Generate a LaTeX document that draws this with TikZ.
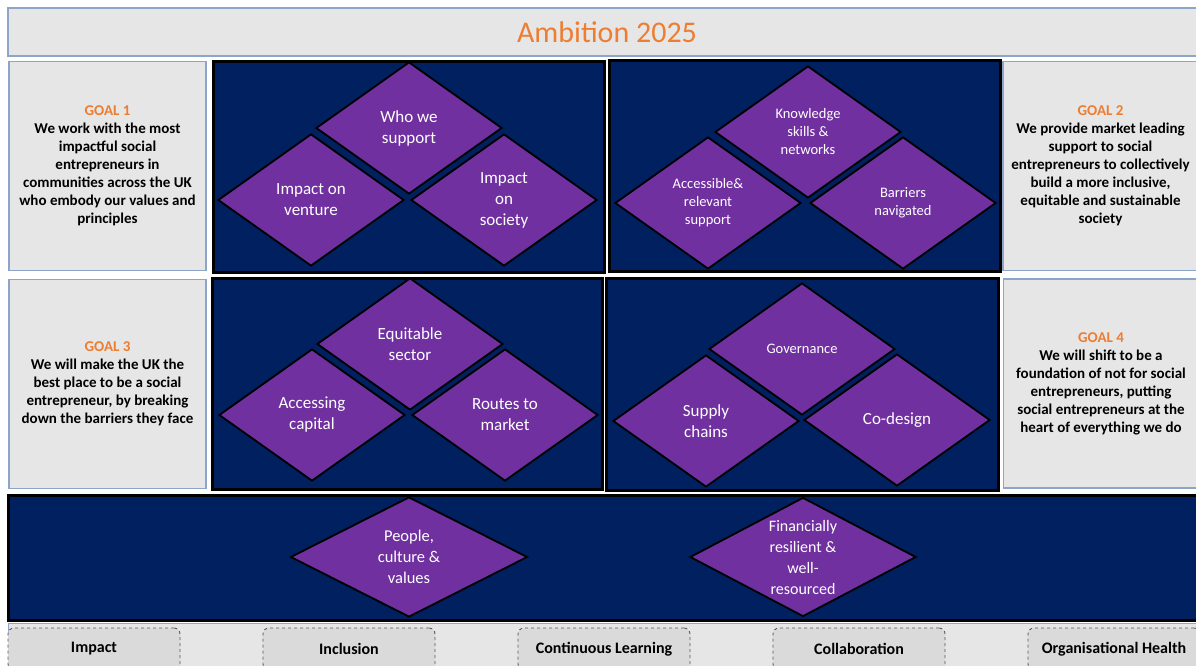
\documentclass[tikz,border=0pt]{standalone}
\usepackage{fontspec}
\setmainfont{Carlito}
\usepackage{tikz}
\usetikzlibrary{shapes.geometric}
\definecolor{navy}{RGB}{0,32,96}
\definecolor{petalpurple}{RGB}{112,48,160}
\definecolor{panelgray}{RGB}{231,230,230}
\definecolor{framegray}{RGB}{140,165,200}
\definecolor{goalorange}{RGB}{237,125,49}
\definecolor{pillargray}{RGB}{218,218,218}
\newcommand{\goalhead}[1]{\textcolor{goalorange}{GOAL #1}}

\begin{document}
\begin{tikzpicture}[x=1pt, y=-1pt]
      \tikzstyle{banner} = [rectangle, draw=framegray, line width=1.2pt, fill=panelgray]
      \tikzstyle{goalbox} = [rectangle, minimum width=197pt, minimum height=209pt, draw=framegray, line width=1.2pt, fill=panelgray, align=center, font=\fontsize{15}{18}\selectfont\bfseries]
      \tikzstyle{navybox} = [rectangle, draw=black, line width=3pt, fill=navy]
      \tikzstyle{petal} = [diamond, minimum width=186pt, minimum height=132pt, inner sep=0pt, draw=black, line width=1.8pt, fill=petalpurple, text=white, align=center, font=\fontsize{17}{21}\selectfont]
      \tikzstyle{small} = [font=\fontsize{14.5}{18}\selectfont]
      \tikzstyle{pillar} = [rectangle, rounded corners=6pt, dashed, draw=black!65, line width=0.9pt, fill=pillargray, minimum width=172pt, minimum height=42pt, font=\fontsize{16}{19}\selectfont\bfseries]

      \useasboundingbox (0,0) rectangle (1196,666);

      \node (title) [banner, minimum width=1198pt, minimum height=48pt, text=goalorange, font=\fontsize{30}{36}\selectfont] at (607,32) {Ambition 2025};

      \node (goal1) [goalbox] at (107.5,166) {\goalhead{1}\\We work with the most\\impactful social\\entrepreneurs in\\communities across the UK\\who embody our values and\\principles};
      \node (goal2) [goalbox, minimum width=195pt] at (1100.5,166) {\goalhead{2}\\We provide market leading\\support to social\\entrepreneurs to collectively\\build a more inclusive,\\equitable and sustainable\\society};
      \node (goal3) [goalbox] at (107.5,384) {\goalhead{3}\\We will make the UK the\\best place to be a social\\entrepreneur, by breaking\\down the barriers they face};
      \node (goal4) [goalbox, minimum width=195pt] at (1101,383.5) {\goalhead{4}\\We will shift to be a\\foundation of not for social\\entrepreneurs, putting\\social entrepreneurs at the\\heart of everything we do};

      \node (box1) [navybox, minimum width=391pt, minimum height=210pt] at (408.5,167) {};
      \node (box2) [navybox, minimum width=391pt, minimum height=210pt] at (804.5,166) {};
      \node (box3) [navybox, minimum width=390pt, minimum height=211pt] at (407,383.5) {};
      \node (box4) [navybox, minimum width=392pt, minimum height=212pt] at (802,384) {};
      \node (base) [navybox, minimum width=1195pt, minimum height=125pt] at (605.5,557.5) {};
      \node (strip) [banner, minimum width=1195pt, minimum height=60pt, anchor=north west] at (8,623) {};

      \node (who) [petal] at (409,128) {Who we\\support};
      \node (venture) [petal] at (311,200) {Impact on\\venture};
      \node (society) [petal] at (504,200) {Impact\\on\\society};

      \node (knowledge) [petal, small] at (808,132) {Knowledge\\skills \&\\networks};
      \node (access) [petal, small] at (708,203) {Accessible\&\\relevant\\support};
      \node (barriers) [petal, small] at (903,203) {Barriers\\navigated};

      \node (sector) [petal] at (410,344) {Equitable\\sector};
      \node (capital) [petal] at (312,415) {Accessing\\capital};
      \node (market) [petal] at (505,415) {Routes to\\market};

      \node (governance) [petal, small] at (802,349) {Governance};
      \node (supply) [petal] at (706,421) {Supply\\chains};
      \node (codesign) [petal] at (897,420) {Co-design};

      \node (people) [petal, aspect=1.9, minimum width=237pt, minimum height=120pt, font=\fontsize{16.5}{21}\selectfont] at (409,557) {People,\\culture \&\\values};
      \node (finance) [petal, aspect=1.9, minimum width=226pt, minimum height=119pt, font=\fontsize{16}{21}\selectfont] at (803,557) {Financially\\resilient \&\\well-\\resourced};

      \foreach \name/\lbl [count=\i from 0] in {impact/Impact, inclusion/Inclusion, learning/Continuous Learning, collab/Collaboration, health/Organisational Health}
        \node (\name) [pillar] at (94+255*\i,649) {\lbl};

\end{tikzpicture}
\end{document}
